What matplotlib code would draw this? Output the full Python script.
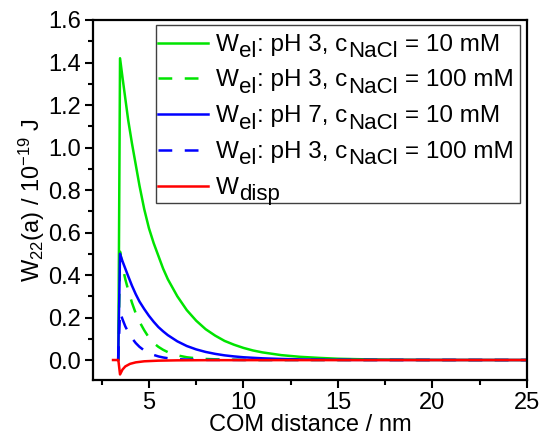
import matplotlib
matplotlib.use("Agg")
import matplotlib.pyplot as plt
from matplotlib.ticker import MultipleLocator, FormatStrFormatter
from matplotlib.patches import Rectangle
from matplotlib.lines import Line2D

plt.rcParams['font.family'] = ['Liberation Sans', 'DejaVu Sans']
plt.rcParams['mathtext.fontset'] = 'custom'
plt.rcParams['mathtext.rm'] = 'Liberation Sans'
plt.rcParams['mathtext.it'] = 'Liberation Sans:italic'

# Green solid: W_el pH 3, 10 mM
x_g10 = [3.38, 3.47, 3.6, 3.75, 3.9, 4.1, 4.3, 4.5, 4.75, 5.0, 5.25, 5.5, 5.75, 6.0, 6.5, 7.0, 7.5, 8.0, 8.5,
         9.0, 9.5, 10.0, 10.5, 11.0, 12.0, 13.0, 14.0, 15.0, 16.0, 17.0, 18.0, 20.0, 25.0]
y_g10 = [0.0, 1.42, 1.33, 1.23, 1.13, 1.02, 0.92, 0.82, 0.71, 0.62, 0.55, 0.49, 0.43, 0.38, 0.30, 0.235, 0.185,
         0.145, 0.115, 0.09, 0.072, 0.057, 0.045, 0.036, 0.023, 0.015, 0.010, 0.006, 0.004, 0.0025, 0.0015, 0.0005, 0.0]
# Green dashed: W_el pH 3, 100 mM
x_g100 = [3.38, 3.47, 3.6, 3.75, 3.9, 4.1, 4.3, 4.5, 4.75, 5.0, 5.25, 5.5, 5.75, 6.0, 6.5, 7.0, 7.5, 8.0, 9.0, 10.0, 25.0]
y_g100 = [0.0, 0.51, 0.44, 0.38, 0.33, 0.27, 0.22, 0.18, 0.14, 0.105, 0.08, 0.062, 0.048, 0.037, 0.022, 0.013,
          0.008, 0.005, 0.002, 0.0005, 0.0]
# Blue solid: W_el pH 7, 10 mM
x_b10 = [3.37, 3.47, 3.6, 3.75, 3.9, 4.1, 4.3, 4.5, 4.75, 5.0, 5.25, 5.5, 5.75, 6.0, 6.5, 7.0, 7.5, 8.0, 8.5,
         9.0, 9.5, 10.0, 11.0, 12.0, 13.0, 14.0, 16.0, 25.0]
y_b10 = [0.0, 0.50, 0.465, 0.43, 0.395, 0.35, 0.31, 0.275, 0.24, 0.208, 0.18, 0.155, 0.135, 0.117, 0.088, 0.066,
         0.05, 0.038, 0.029, 0.022, 0.017, 0.013, 0.008, 0.005, 0.003, 0.0015, 0.0005, 0.0]
# Blue dashed: W_el pH 3, 100 mM
x_b100 = [3.37, 3.47, 3.6, 3.75, 3.9, 4.1, 4.3, 4.5, 4.75, 5.0, 5.25, 5.5, 5.75, 6.0, 6.5, 7.0, 8.0, 25.0]
y_b100 = [0.0, 0.225, 0.192, 0.158, 0.132, 0.103, 0.080, 0.062, 0.045, 0.033, 0.024, 0.017, 0.012, 0.0085,
          0.004, 0.002, 0.0005, 0.0]
# Red: W_disp
x_d = [3.1, 3.38, 3.47, 3.6, 3.75, 4.0, 4.3, 4.75, 5.5, 6.5, 8.0, 25.0]
y_d = [0.0, 0.0, -0.068, -0.045, -0.03, -0.018, -0.011, -0.006, -0.003, -0.0015, -0.0007, 0.0]

# legend labels as (text, is_subscript) pieces
leg_labels = [
    [("W", False), ("el", True), (": pH 3, c", False), ("NaCl", True), ("= 10 mM", False)],
    [("W", False), ("el", True), (": pH 3, c", False), ("NaCl", True), ("= 100 mM", False)],
    [("W", False), ("el", True), (": pH 7, c", False), ("NaCl", True), ("= 10 mM", False)],
    [("W", False), ("el", True), (": pH 3, c", False), ("NaCl", True), ("= 100 mM", False)],
    [("W", False), ("disp", True)],
]

W, H = 542, 441
fig = plt.figure(figsize=(W / 100, H / 100), dpi=100)
ax = fig.add_axes([93 / W, 1 - 380 / H, (527 - 93) / W, 360 / H])

lw = 1.8
green = '#00e400'
blue = '#0000ff'
red = '#ff0000'
dash = (5.5, 5)
styles = [(green, None), (green, dash), (blue, None), (blue, dash), (red, None)]
series = [(x_g10, y_g10), (x_g100, y_g100), (x_b10, y_b10), (x_b100, y_b100), (x_d, y_d)]
for (xs, ys), (c, d) in zip(series, styles):
    if d is None:
        ax.plot(xs, ys, color=c, lw=lw)
    else:
        ax.plot(xs, ys, color=c, lw=lw, dashes=d)

ax.set_xlim(2.04, 25)
ax.set_ylim(-0.094, 1.6)
ax.xaxis.set_major_locator(MultipleLocator(5))
ax.xaxis.set_minor_locator(MultipleLocator(2.5))
ax.yaxis.set_major_locator(MultipleLocator(0.2))
ax.yaxis.set_minor_locator(MultipleLocator(0.1))
ax.yaxis.set_major_formatter(FormatStrFormatter('%.1f'))
ax.tick_params(which='both', direction='out', width=1.5, labelsize=17, pad=3)
ax.tick_params(which='major', length=5.5)
ax.tick_params(which='minor', length=3.5)
for s in ax.spines.values():
    s.set_linewidth(1.6)

ax.set_xlabel("COM distance / nm", fontsize=17, labelpad=0)
ax.set_ylabel(r"W$_{22}$(a) / 10$^{-19}$ J", fontsize=17, labelpad=1)

# manual legend (Origin style, full-size lowered subscripts)
def fx(px):
    return px / W

def fy(py):
    return 1 - py / H

frame = Rectangle((fx(156), fy(203)), fx(520) - fx(156), fy(25) - fy(203),
                  transform=fig.transFigure, facecolor='white', edgecolor='#404040',
                  lw=1.0, zorder=5)
fig.patches.append(frame)

renderer = fig.canvas.get_renderer()
fs_main, fs_sub, sub_drop = 17.5, 16, 6.5
space_px = 0.278 * fs_main * 100 / 72
row_y = [42.7, 78.3, 114.3, 150.0, 185.7]
for (c, d), pieces, ly in zip(styles, leg_labels, row_y):
    ln = Line2D([fx(158), fx(208)], [fy(ly), fy(ly)], transform=fig.transFigure,
                color=c, lw=lw, zorder=6)
    if d is not None:
        ln.set_dashes(d)
    fig.lines.append(ln)
    x = 216.0
    base = ly + 8
    for i, (s, sub) in enumerate(pieces):
        if s.startswith("="):
            x += space_px
        t = fig.text(fx(x), fy(base + (sub_drop if sub else 0)), s,
                     fontsize=fs_sub if sub else fs_main, va='baseline', ha='left', zorder=7)
        bb = t.get_window_extent(renderer)
        x = bb.x1 + 0.5

fig.savefig("out.png", dpi=100)
